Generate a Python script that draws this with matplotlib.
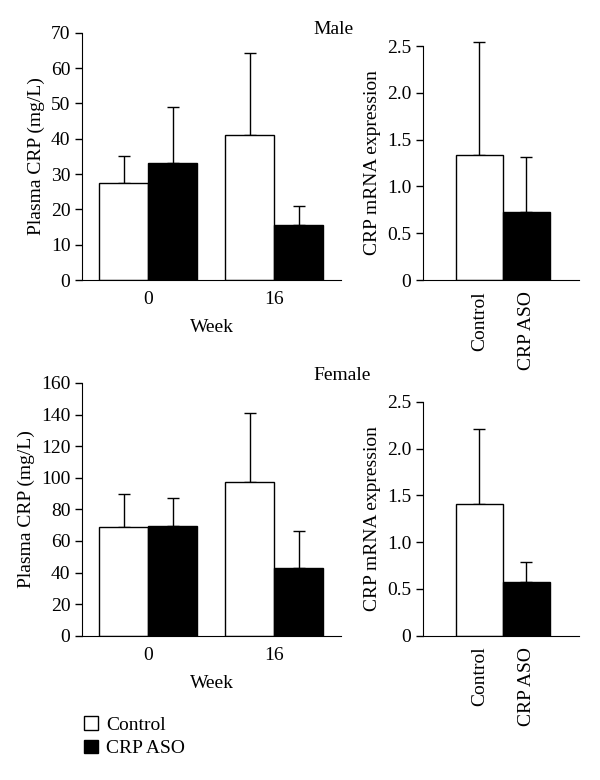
import matplotlib
matplotlib.use("Agg")
import matplotlib.pyplot as plt
from matplotlib.patches import Patch

plt.rcParams["font.family"] = ["Liberation Serif", "DejaVu Serif"]
plt.rcParams["font.size"] = 14

# Data
weeks = ["0", "16"]
groups = ["Control", "CRP ASO"]

# plasma CRP (mg/L), index 0 = control, 1 = CRP ASO
male_wk0 = [27.5, 33.2]
male_wk16 = [41.0, 15.5]
male_wk0_top = [35.0, 49.0]      # error bar tops
male_wk16_top = [64.3, 21.0]

female_wk0 = [69.0, 69.5]
female_wk16 = [97.0, 43.0]
female_wk0_top = [89.5, 87.0]
female_wk16_top = [141.0, 66.0]

# liver CRP mRNA expression
male_mrna = [1.34, 0.73]
male_mrna_top = [2.54, 1.31]
female_mrna = [1.41, 0.57]
female_mrna_top = [2.21, 0.79]

fills = ["white", "black"]


def style_axes(ax):
    ax.spines["top"].set_visible(False)
    ax.spines["right"].set_visible(False)
    ax.tick_params(axis="y", direction="out", length=5, width=1)
    ax.tick_params(axis="x", length=0, pad=8)


def draw_bars(ax, x, h, top, color, width):
    ax.bar(x, h, width=width, color=color, edgecolor="black", linewidth=1, zorder=2)
    upper = [t - v for t, v in zip(top, h)]
    eb = ax.errorbar(x, h, yerr=[[0] * len(h), upper], fmt="none", ecolor="black",
                     elinewidth=1, capsize=4, capthick=1, zorder=1)
    for artist in eb.lines[1] + eb.lines[2]:
        artist.set_clip_on(False)


def crp_panel(ax, wk0, wk16, top0, top16, ymax, step):
    bw = 0.39
    for i in range(2):
        off = -bw / 2 + i * bw
        draw_bars(ax, [0 + off, 1 + off], [wk0[i], wk16[i]], [top0[i], top16[i]],
                  fills[i], bw)
    ax.set_xlim(-0.524, 1.532)
    ax.set_ylim(0, ymax)
    ax.set_yticks(range(0, ymax + 1, step))
    ax.set_xticks([0, 1])
    ax.set_xticklabels(weeks)
    ax.set_ylabel("Plasma CRP (mg/L)")
    ax.set_xlabel("Week", labelpad=8)
    style_axes(ax)


def mrna_panel(ax, vals, tops):
    for i in range(2):
        draw_bars(ax, [i], [vals[i]], [tops[i]], fills[i], 1.0)
    ax.set_xlim(-1.2, 2.12)
    ax.set_ylim(0, 2.5)
    ax.set_yticks([0, 0.5, 1.0, 1.5, 2.0, 2.5])
    ax.set_yticklabels(["0", "0.5", "1.0", "1.5", "2.0", "2.5"])
    ax.set_xticks([0, 1])
    ax.set_xticklabels(groups, rotation=90)
    ax.set_ylabel("CRP mRNA expression")
    style_axes(ax)


fig = plt.figure(figsize=(6, 7.8), dpi=100)

ax1 = fig.add_axes([0.137, 0.641, 0.432, 0.317])
crp_panel(ax1, male_wk0, male_wk16, male_wk0_top, male_wk16_top, 70, 10)
ax2 = fig.add_axes([0.705, 0.641, 0.26, 0.300])
mrna_panel(ax2, male_mrna, male_mrna_top)

ax3 = fig.add_axes([0.137, 0.185, 0.432, 0.324])
crp_panel(ax3, female_wk0, female_wk16, female_wk0_top, female_wk16_top, 160, 20)
ax4 = fig.add_axes([0.705, 0.185, 0.26, 0.300])
mrna_panel(ax4, female_mrna, female_mrna_top)

fig.text(0.555, 0.962, "Male", ha="center", va="center")
fig.text(0.57, 0.518, "Female", ha="center", va="center")

handles = [Patch(facecolor=c, edgecolor="black", linewidth=1) for c in fills]
fig.legend(handles, groups, loc="upper left", bbox_to_anchor=(0.14, 0.0815),
           frameon=False, handlelength=0.7, handleheight=0.7, handletextpad=0.45,
           labelspacing=0.3, borderaxespad=0, borderpad=0)

fig.savefig("out.png", dpi=100)
